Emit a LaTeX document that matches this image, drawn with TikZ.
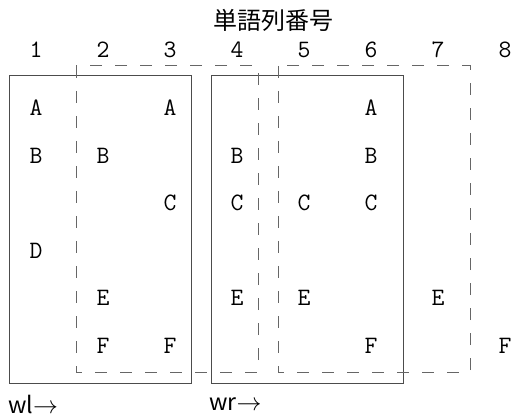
\documentclass[tikz,border=0pt]{standalone}
\usepackage{fontspec}
\newfontfamily\cjk{Noto Sans CJK JP}
\begin{document}
\begin{tikzpicture}[x=1pt,y=-1pt,
  letter/.style={font=\fontsize{25}{28}\selectfont\ttfamily, inner sep=0pt, anchor=center},
  colnum/.style={font=\fontsize{25}{28}\selectfont\ttfamily, inner sep=0pt, anchor=center},
  title/.style={font=\fontsize{24}{28}\selectfont\cjk, inner sep=0pt, anchor=center},
  winlabel/.style={font=\fontsize{23}{26}\selectfont\cjk, inner sep=0pt, anchor=west},
  solidbox/.style={draw=black!70, line width=1pt},
  dashbox/.style={draw=black!60, line width=1pt, dash pattern=on 12pt off 13pt},
]
\useasboundingbox (0,0) rectangle (512,417);
% title
\node[title] (title) at (273,20) {単語列番号};
% column numbers
\foreach \i in {1,...,8} {
  \node[colnum] (n\i) at ({36+67*(\i-1)},50) {\i};
}
% boxes
\draw[solidbox] (9,76) rectangle (191,383);
\draw[solidbox] (211,76) rectangle (403,383);
\draw[dashbox] (76,66) rectangle (258,372);
\draw[dashbox] (278,66) rectangle (470,372);
% letters: column / row / letter
\foreach \c/\r/\t in {1/1/A,1/2/B,1/4/D,
                      2/2/B,2/5/E,2/6/F,
                      3/1/A,3/3/C,3/6/F,
                      4/2/B,4/3/C,4/5/E,
                      5/3/C,5/5/E,
                      6/1/A,6/2/B,6/3/C,6/6/F,
                      7/5/E,
                      8/6/F} {
  \node[letter] (l\c\r) at ({36+67*(\c-1)},{108+47.5*(\r-1)}) {\t};
}
% window labels
\node[winlabel] (wl) at (8,404) {wl$\rightarrow$};
\node[winlabel] (wr) at (209,404) {wr$\rightarrow$};
\end{tikzpicture}
\end{document}
